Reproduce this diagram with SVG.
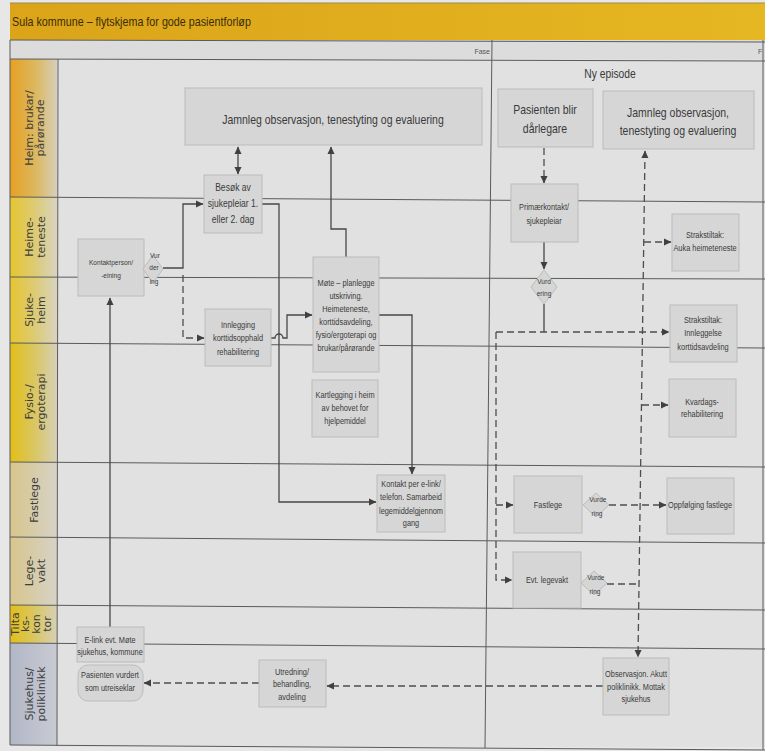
<svg xmlns="http://www.w3.org/2000/svg" width="765" height="751" viewBox="0 0 765 751">
<defs>
<style>
.lane{stroke:#5a5a5a;stroke-width:1;fill:none}
.box{fill:#d6d6d6;stroke:#bcbcbc;stroke-width:1}
.t{font-family:"Liberation Sans",Arial,sans-serif;fill:#3a3a3a;text-anchor:middle}
.s{font-size:8.8px}
.m{font-size:10.2px}
.x{font-size:7.8px}
.b{font-size:12.5px}
.h{font-family:"DejaVu Sans",Verdana,sans-serif;font-size:11px;fill:#3c3c3c;text-anchor:middle}
.c{stroke:#474747;stroke-width:1.3;fill:none}
.d{stroke:#4d4d4d;stroke-width:1.3;fill:none;stroke-dasharray:7 4}
</style>
<marker id="ah" markerWidth="8" markerHeight="8" refX="7" refY="4" orient="auto-start-reverse" markerUnits="userSpaceOnUse"><path d="M0,0.5 L7.5,4 L0,7.5 z" fill="#404040"/></marker>
<linearGradient id="gTitle" x1="0" x2="1" y1="0" y2="0"><stop offset="0" stop-color="#dba419"/><stop offset="1" stop-color="#e5b722"/></linearGradient>
<linearGradient id="gHeim" x1="0" x2="1"><stop offset="0" stop-color="#e6a023"/><stop offset="0.55" stop-color="#dcb860"/><stop offset="1" stop-color="#d6cfba"/></linearGradient>
<linearGradient id="gYel" x1="0" x2="1"><stop offset="0" stop-color="#e6c52e"/><stop offset="0.55" stop-color="#dccb78"/><stop offset="1" stop-color="#d8d4c0"/></linearGradient>
<linearGradient id="gFys" x1="0" x2="1"><stop offset="0" stop-color="#e2be16"/><stop offset="0.55" stop-color="#d9c768"/><stop offset="1" stop-color="#d6d0b6"/></linearGradient>
<linearGradient id="gBei" x1="0" x2="1"><stop offset="0" stop-color="#d8c68c"/><stop offset="1" stop-color="#d6d2c6"/></linearGradient>
<linearGradient id="gBlu" x1="0" x2="1"><stop offset="0" stop-color="#b2b7c6"/><stop offset="1" stop-color="#c9cbd3"/></linearGradient>
<clipPath id="clipT"><rect x="10" y="605" width="47" height="38"/></clipPath>
</defs>

<rect x="0" y="0" width="765" height="751" fill="#e7e7e7"/>
<rect x="10" y="3" width="755" height="37" fill="url(#gTitle)"/>
<g transform="translate(12,26) scale(0.84,1)"><text x="0" y="0" class="t" style="text-anchor:start;font-size:12.8px;fill:#3b2c05">Sula kommune – flytskjema for gode pasientforløp</text></g>
<rect x="10" y="40" width="755" height="19" fill="#dcdcdc"/>
<text x="490" y="54" class="t" style="text-anchor:end;font-size:7px;fill:#555">Fase</text>
<text x="758" y="54" class="t" style="text-anchor:start;font-size:7px;fill:#555">F</text>
<rect x="58" y="59" width="707" height="688" fill="#e1e1e1"/>

<g id="lane-headers">
<rect x="10" y="59" width="47" height="138" fill="url(#gHeim)"/>
<rect x="10" y="197" width="47" height="80" fill="url(#gYel)"/>
<rect x="10" y="277" width="47" height="66" fill="url(#gYel)"/>
<rect x="10" y="343" width="47" height="119" fill="url(#gFys)"/>
<rect x="10" y="462" width="47" height="75" fill="url(#gBei)"/>
<rect x="10" y="537" width="47" height="68" fill="url(#gBei)"/>
<rect x="10" y="605" width="47" height="38" fill="url(#gFys)"/>
<rect x="10" y="643" width="47" height="102" fill="url(#gBlu)"/>
<g transform="translate(33,128) rotate(-90)"><text class="h" x="0" y="0">Heim: brukar/</text></g>
<g transform="translate(44,128) rotate(-90)"><text class="h" x="0" y="0">pårørande</text></g>
<g transform="translate(33,237) rotate(-90)"><text class="h" x="0" y="0">Heime-</text></g>
<g transform="translate(45,237) rotate(-90)"><text class="h" x="0" y="0">teneste</text></g>
<g transform="translate(33,310) rotate(-90)"><text class="h" x="0" y="0">Sjuke-</text></g>
<g transform="translate(45,310) rotate(-90)"><text class="h" x="0" y="0">heim</text></g>
<g transform="translate(33,402) rotate(-90)"><text class="h" x="0" y="0">Fysio-/</text></g>
<g transform="translate(45,402) rotate(-90)"><text class="h" x="0" y="0">ergoterapi</text></g>
<g transform="translate(38,500) rotate(-90)"><text class="h" x="0" y="0">Fastlege</text></g>
<g transform="translate(33,571) rotate(-90)"><text class="h" x="0" y="0">Lege-</text></g>
<g transform="translate(45,571) rotate(-90)"><text class="h" x="0" y="0">vakt</text></g>
<g clip-path="url(#clipT)">
<g transform="translate(19,624) rotate(-90)"><text class="h" x="0" y="0">Tilta</text></g>
<g transform="translate(29,624) rotate(-90)"><text class="h" x="0" y="0">ks-</text></g>
<g transform="translate(40,624) rotate(-90)"><text class="h" x="0" y="0">kon</text></g>
<g transform="translate(51,624) rotate(-90)"><text class="h" x="0" y="0">tor</text></g>
</g>
<g transform="translate(33,694) rotate(-90)"><text class="h" x="0" y="0">Sjukehus/</text></g>
<g transform="translate(45,694) rotate(-90)"><text class="h" x="0" y="0">poliklinikk</text></g>
</g>

<g id="lanes">
<line class="lane" x1="10" y1="3" x2="765" y2="3" style="stroke:#9a8a50"/>
<line class="lane" x1="10" y1="40" x2="765" y2="42"/>
<line class="lane" x1="10" y1="59" x2="765" y2="61"/>
<line class="lane" x1="10" y1="197" x2="765" y2="202"/>
<line class="lane" x1="10" y1="277" x2="765" y2="279"/>
<line class="lane" x1="10" y1="343" x2="765" y2="348"/>
<line class="lane" x1="10" y1="462" x2="765" y2="467"/>
<line class="lane" x1="10" y1="537" x2="765" y2="543"/>
<line class="lane" x1="10" y1="605" x2="765" y2="610"/>
<line class="lane" x1="10" y1="643" x2="765" y2="649"/>
<line class="lane" x1="10" y1="745" x2="765" y2="750"/>
<line class="lane" x1="10" y1="40" x2="10" y2="745"/>
<line class="lane" x1="58" y1="59" x2="57" y2="746"/>
<line class="lane" x1="492" y1="40" x2="485" y2="748"/>
<line class="lane" x1="763" y1="40" x2="763" y2="750"/>
</g>

<g id="connectors">
<path class="c" d="M238,147 V174" marker-start="url(#ah)" marker-end="url(#ah)"/>
<path class="c" d="M163,268 H183 V204 H203" marker-end="url(#ah)"/>
<path class="d" d="M183,275 V338 H204" marker-end="url(#ah)"/>
<path class="c" d="M262,204 H279 V502 H376" marker-end="url(#ah)"/>
<path class="c" d="M271,338 H275 A4,4 0 0 1 283,338 H287 V315 H312" marker-end="url(#ah)"/>
<path class="c" d="M346,257 V229 H331 V147" marker-end="url(#ah)"/>
<path class="c" d="M379,315 H412 V474" marker-end="url(#ah)"/>
<path class="c" d="M110,627 V298" marker-end="url(#ah)"/>
<path class="d" d="M544,148 V183" marker-end="url(#ah)"/>
<path class="c" d="M544,242 V269" marker-end="url(#ah)"/>
<path class="c" d="M544,304 V332"/>
<path class="d" d="M496,332 H669" marker-end="url(#ah)"/>
<path class="d" d="M496,332 V580 H512" marker-end="url(#ah)"/>
<path class="d" d="M496,505 H513" marker-end="url(#ah)"/>
<path class="d" d="M645,151 L638,657" marker-start="url(#ah)" marker-end="url(#ah)"/>
<path class="d" d="M644,242 H671" marker-end="url(#ah)"/>
<path class="d" d="M642,405 H668" marker-end="url(#ah)"/>
<path class="d" d="M609,505 H666" marker-end="url(#ah)"/>
<path class="d" d="M607,584 H639"/>
<path class="d" d="M603,686 H327" marker-end="url(#ah)"/>
<path class="d" d="M259,683 H144" marker-end="url(#ah)"/>
</g>

<g transform="translate(610,0) scale(0.84,1)"><text x="0" y="78" class="t" style="font-size:12.3px">Ny episode</text></g>

<g id="jamnleg1"><rect class="box" x="185" y="88" width="297" height="57"/>
<g transform="translate(333,0) scale(0.84,1)"><text class="t b" x="0" y="124">Jamnleg observasjon, tenestyting og evaluering</text></g></g>

<g id="pasienten-blir"><rect class="box" x="498" y="89" width="95" height="58"/>
<g transform="translate(545,0) scale(0.84,1)"><text class="t b" x="0" y="114">Pasienten blir</text><text class="t b" x="0" y="133">dårlegare</text></g></g>

<g id="jamnleg2"><rect class="box" x="603" y="91" width="151" height="58"/>
<g transform="translate(678,0) scale(0.84,1)"><text class="t b" x="0" y="117">Jamnleg observasjon,</text><text class="t b" x="0" y="135">tenestyting og evaluering</text></g></g>

<g id="besok"><rect class="box" x="204" y="175" width="58" height="58"/>
<g transform="translate(233,0) scale(0.84,1)"><text class="t m" x="0" y="191">Besøk av</text><text class="t m" x="0" y="207">sjukepleiar 1.</text><text class="t m" x="0" y="223">eller 2. dag</text></g></g>

<g id="kontaktperson"><rect class="box" x="78" y="239" width="66" height="57"/>
<g transform="translate(111,0) scale(0.84,1)"><text class="t x" x="0" y="265">Kontaktperson/</text><text class="t x" x="0" y="278">-eining</text></g></g>

<g id="vurdering1"><polygon class="box" points="153,255 163,269 153,283 143,269"/>
<g transform="translate(154,0) scale(0.84,1)"><text class="t x" x="1" y="258">Vur</text><text class="t x" x="0" y="270">der</text><text class="t x" x="0" y="284">ing</text></g></g>

<g id="mote"><rect class="box" x="313" y="257" width="66" height="115"/>
<g transform="translate(346,0) scale(0.84,1)"><text class="t s" x="0" y="286">Møte – planlegge</text><text class="t s" x="0" y="299">utskriving.</text><text class="t s" x="0" y="312">Heimeteneste,</text><text class="t s" x="0" y="325">korttidsavdeling,</text><text class="t s" x="0" y="338">fysio/ergoterapi og</text><text class="t s" x="0" y="351">brukar/pårørande</text></g></g>

<g id="innlegging"><rect class="box" x="205" y="309" width="66" height="57"/>
<g transform="translate(238,0) scale(0.84,1)"><text class="t s" x="0" y="328">Innlegging</text><text class="t s" x="0" y="341">korttidsopphald</text><text class="t s" x="0" y="355">rehabilitering</text></g></g>

<g id="kartlegging"><rect class="box" x="312" y="380" width="66" height="57"/>
<g transform="translate(345,0) scale(0.84,1)"><text class="t s" x="0" y="398">Kartlegging i heim</text><text class="t s" x="0" y="411">av behovet for</text><text class="t s" x="0" y="424">hjelpemiddel</text></g></g>

<g id="kontakt-elink"><rect class="box" x="377" y="475" width="68" height="57"/>
<g transform="translate(411,0) scale(0.84,1)"><text class="t s" x="0" y="487">Kontakt per e-link/</text><text class="t s" x="0" y="500">telefon. Samarbeid</text><text class="t s" x="0" y="514">legemiddelgjennom</text><text class="t s" x="0" y="526">gang</text></g></g>

<g id="primaerkontakt"><rect class="box" x="511" y="184" width="67" height="58"/>
<g transform="translate(544,0) scale(0.84,1)"><text class="t s" x="0" y="210">Primærkontakt/</text><text class="t s" x="0" y="224">sjukepleiar</text></g></g>

<g id="vurdering2"><polygon class="box" points="544,270 557,287 544,304 531,287"/>
<g transform="translate(544,0) scale(0.84,1)"><text class="t x" x="0" y="284">Vurd</text><text class="t x" x="0" y="296">ering</text></g></g>

<g id="straks-auka"><rect class="box" x="672" y="214" width="67" height="57"/>
<g transform="translate(705,0) scale(0.84,1)"><text class="t s" x="0" y="238">Strakstiltak:</text><text class="t s" x="0" y="251">Auka heimeteneste</text></g></g>

<g id="straks-innleggelse"><rect class="box" x="670" y="305" width="67" height="57"/>
<g transform="translate(703,0) scale(0.84,1)"><text class="t s" x="0" y="323">Strakstiltak:</text><text class="t s" x="0" y="336">Innleggelse</text><text class="t s" x="0" y="350">korttidsavdeling</text></g></g>

<g id="kvardags"><rect class="box" x="669" y="379" width="67" height="58"/>
<g transform="translate(702,0) scale(0.84,1)"><text class="t s" x="0" y="405">Kvardags-</text><text class="t s" x="0" y="417">rehabilitering</text></g></g>

<g id="fastlege"><rect class="box" x="514" y="476" width="68" height="57"/>
<g transform="translate(548,0) scale(0.84,1)"><text class="t s" x="0" y="508">Fastlege</text></g></g>

<g id="vurdering3"><polygon class="box" points="596,493 609,505 596,517 583,505"/>
<g transform="translate(597,0) scale(0.84,1)"><text class="t x" x="1" y="502">Vurde</text><text class="t x" x="0" y="516">ring</text></g></g>

<g id="oppfolging"><rect class="box" x="667" y="478" width="67" height="56"/>
<g transform="translate(700,0) scale(0.84,1)"><text class="t s" x="0" y="508">Oppfølging fastlege</text></g></g>

<g id="legevakt"><rect class="box" x="513" y="552" width="68" height="56"/>
<g transform="translate(547,0) scale(0.84,1)"><text class="t s" x="0" y="583">Evt. legevakt</text></g></g>

<g id="vurdering4"><polygon class="box" points="594,571 607,583 594,595 581,583"/>
<g transform="translate(595,0) scale(0.84,1)"><text class="t x" x="1" y="580">Vurde</text><text class="t x" x="0" y="594">ring</text></g></g>

<g id="elink"><rect class="box" x="77" y="627" width="67" height="35"/>
<g transform="translate(110,0) scale(0.84,1)"><text class="t s" x="0" y="643">E-link evt. Møte</text><text class="t s" x="0" y="655">sjukehus, kommune</text></g></g>

<g id="utreiseklar"><rect class="box" x="78" y="665" width="65" height="36" rx="10"/>
<g transform="translate(110,0) scale(0.84,1)"><text class="t s" x="0" y="678">Pasienten vurdert</text><text class="t s" x="0" y="691">som utreiseklar</text></g></g>

<g id="utredning"><rect class="box" x="259" y="660" width="67" height="47"/>
<g transform="translate(292,0) scale(0.84,1)"><text class="t s" x="0" y="675">Utredning/</text><text class="t s" x="0" y="687">behandling,</text><text class="t s" x="0" y="700">avdeling</text></g></g>

<g id="observasjon"><rect class="box" x="603" y="658" width="66" height="57"/>
<g transform="translate(636,0) scale(0.84,1)"><text class="t s" x="0" y="677">Observasjon. Akutt</text><text class="t s" x="0" y="690">poliklinikk. Mottak</text><text class="t s" x="0" y="702">sjukehus</text></g></g>
</svg>
